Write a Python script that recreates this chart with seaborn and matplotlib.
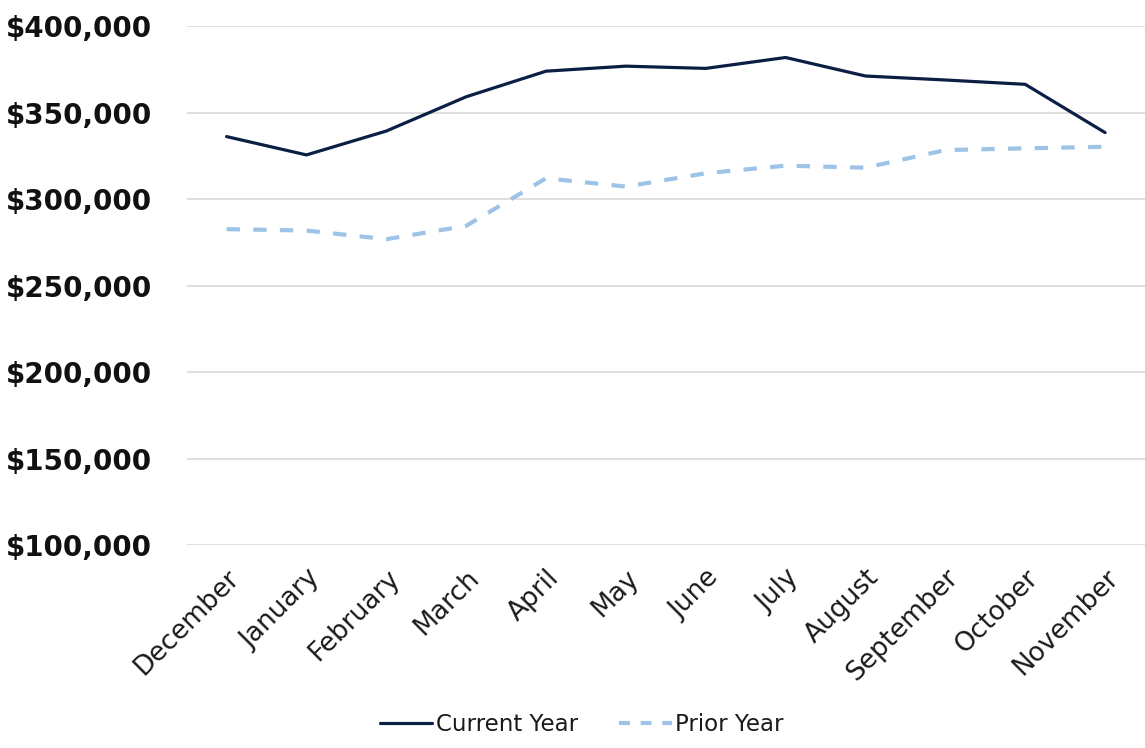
import matplotlib
matplotlib.use("Agg")
import matplotlib.pyplot as plt
import seaborn as sns
import pandas as pd
from matplotlib.ticker import FuncFormatter
from matplotlib.lines import Line2D

months = ["December", "January", "February", "March", "April", "May", "June",
          "July", "August", "September", "October", "November"]
current_year = [336200, 325600, 339400, 359200, 374000, 376900, 375600,
                381900, 371200, 368900, 366400, 338500]
prior_year = [282700, 281900, 276900, 284600, 312100, 307300, 315000,
              319400, 318200, 328400, 329400, 330300]
y_ticks = [100000, 150000, 200000, 250000, 300000, 350000, 400000]

df = pd.DataFrame({
    "Month": months * 2,
    "idx": list(range(len(months))) * 2,
    "Value": current_year + prior_year,
    "Series": ["Current Year"] * len(months) + ["Prior Year"] * len(months),
})

sns.set_theme(style="white")
plt.rcParams["font.family"] = ["DejaVu Sans"]

fig = plt.figure(figsize=(11.45, 7.48), dpi=100)
ax = fig.add_axes([0.163, 0.271, 0.837, 0.694])

navy = "#0b1f45"
light = "#9dc3e6"
palette = {"Current Year": navy, "Prior Year": light}
dashes = {"Current Year": "", "Prior Year": (3.2, 3.2)}
sns.lineplot(data=df, x="idx", y="Value", hue="Series", style="Series",
             palette=palette, dashes=dashes, ax=ax, legend=False)
for line, lw in zip(ax.get_lines(), [2.3, 3.0]):
    line.set_linewidth(lw)
    line.set_dash_capstyle("butt")

ax.set_xlim(-0.5, len(months) - 0.5)
ax.set_ylim(100000, 400000)
ax.set_yticks(y_ticks)
ax.yaxis.set_major_formatter(FuncFormatter(lambda v, p: f"${v:,.0f}"))
ax.set_xticks(range(len(months)))
ax.set_xticklabels(months, rotation=45, ha="right", rotation_mode="anchor",
                   fontsize=19, color="#1a1a1a")
for t in ax.get_yticklabels():
    t.set_fontsize(20)
    t.set_fontweight("bold")
    t.set_color("#111111")
ax.tick_params(axis="y", pad=25, length=0)
ax.tick_params(axis="x", pad=14, length=0)
ax.set_xlabel("")
ax.set_ylabel("")
ax.grid(axis="y", color="#d9d9d9", linewidth=1.2)
ax.grid(axis="x", visible=False)
for s in ax.spines.values():
    s.set_visible(False)

handles = [Line2D([0], [0], color=navy, lw=2.3),
           Line2D([0], [0], color=light, lw=3.0, dashes=(2.6, 2.6))]
fig.legend(handles, ["Current Year", "Prior Year"], loc="center",
           bbox_to_anchor=(0.508, 0.032), ncol=2, frameon=False, fontsize=16.5,
           handlelength=2.3, handletextpad=0.15, columnspacing=1.8,
           labelcolor="#1a1a1a")

fig.savefig("out.png", dpi=100)
